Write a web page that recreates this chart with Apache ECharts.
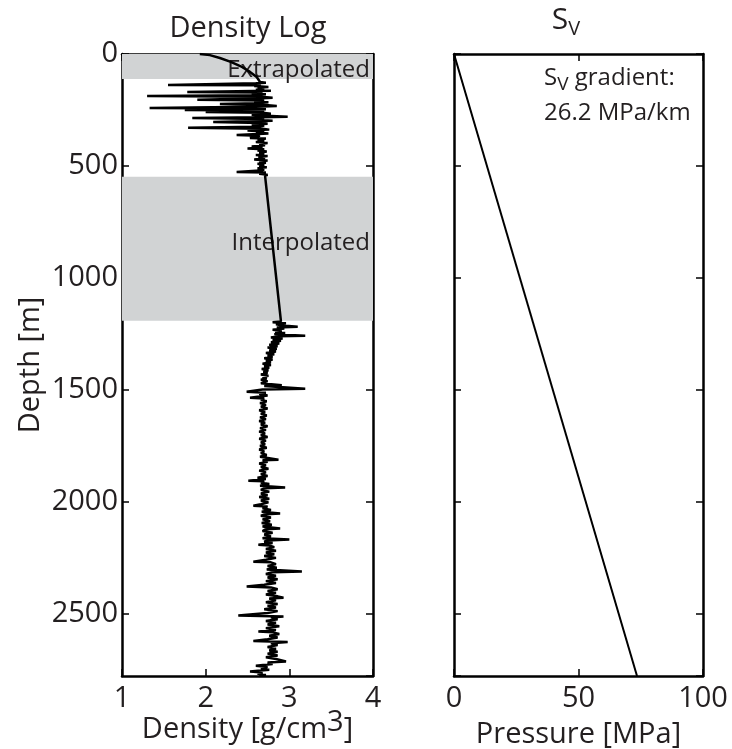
<!DOCTYPE html>
<html>
<head>
<meta charset="utf-8">
<script src="https://cdn.jsdelivr.net/npm/echarts@6/dist/echarts.min.js"></script>
<style>html,body{margin:0;padding:0;background:#fff;}#c{width:732px;height:749px;}</style>
</head>
<body>
<div id="c"></div>
<script>
// ---- data ----
const extrapolated = [[1.93,0],[2.05,5],[2.17,18],[2.30,35],[2.42,55],[2.53,80],[2.61,103],[2.65,125]];
const upperLog = [[2.72,128],[2.60,131],[1.55,138],[2.66,140],[2.58,143],[2.75,147],[2.62,151],[2.70,155],[2.60,160],[2.78,164],[1.78,170],[2.68,172],[2.55,176],[2.72,180],[2.62,184],[1.30,188],[2.66,191],[2.80,195],[2.60,199],[1.90,205],[2.70,208],[2.58,212],[2.75,216],[2.62,220],[2.17,223],[2.68,227],[2.85,232],[2.60,236],[1.33,241],[2.65,244],[2.72,247],[1.75,250],[2.70,253],[2.60,256],[2.00,259],[2.68,263],[2.78,267],[2.55,271],[2.72,276],[2.98,281],[2.65,283],[1.84,286],[2.70,290],[2.58,294],[2.80,298],[2.09,304],[2.66,308],[2.74,312],[2.55,316],[2.70,320],[2.62,325],[1.79,330],[2.68,334],[2.76,338],[2.50,342],[2.70,346],[2.60,351],[2.75,355],[2.37,362],[2.65,365],[2.58,369],[2.53,375],[2.72,378],[2.62,383],[2.70,388],[2.60,393],[2.74,398],[2.64,403],[2.71,408],[2.55,413],[2.68,418],[2.50,422],[2.70,426],[2.62,431],[2.73,436],[2.64,441],[2.70,446],[2.60,451],[2.74,456],[2.63,461],[2.71,466],[2.58,471],[2.74,476],[2.64,481],[2.72,486],[2.62,491],[2.70,496],[2.64,501],[2.73,506],[2.62,511],[2.70,516],[2.65,521],[2.37,527],[2.72,530],[2.64,535],[2.74,540],[2.71,545]];
const lowerLog = [[2.90,1195],[2.80,1199],[2.96,1203],[2.84,1208],[2.92,1213],[3.10,1219],[2.85,1222],[2.94,1227],[2.80,1232],[2.91,1237],[2.83,1242],[2.95,1247],[2.82,1252],[3.19,1259],[2.86,1262],[2.78,1267],[2.92,1272],[2.80,1277],[2.90,1282],[2.78,1288],[2.88,1294],[2.76,1300],[2.86,1306],[2.74,1312],[2.85,1318],[2.76,1324],[2.84,1330],[2.72,1336],[2.82,1342],[2.74,1348],[2.80,1354],[2.70,1360],[2.80,1366],[2.72,1372],[2.78,1378],[2.68,1384],[2.78,1390],[2.70,1396],[2.76,1402],[2.67,1408],[2.75,1414],[2.69,1420],[2.74,1426],[2.66,1432],[2.75,1438],[2.68,1444],[2.73,1450],[2.66,1456],[2.74,1462],[2.72,1466],[2.66,1472],[2.91,1480],[2.70,1484],[3.19,1496],[2.68,1500],[2.49,1510],[2.72,1514],[2.64,1520],[2.74,1526],[2.53,1536],[2.70,1540],[2.66,1546],[2.73,1552],[2.65,1560],[2.72,1568],[2.66,1576],[2.74,1584],[2.64,1592],[2.71,1600],[2.66,1608],[2.73,1616],[2.65,1624],[2.72,1632],[2.64,1640],[2.71,1648],[2.66,1656],[2.74,1664],[2.65,1672],[2.72,1680],[2.64,1688],[2.71,1696],[2.66,1704],[2.74,1712],[2.64,1720],[2.72,1728],[2.66,1736],[2.71,1744],[2.65,1752],[2.73,1760],[2.64,1768],[2.70,1776],[2.66,1784],[2.73,1792],[2.65,1800],[2.87,1813],[2.68,1816],[2.74,1822],[2.64,1830],[2.72,1838],[2.66,1846],[2.75,1854],[2.64,1862],[2.72,1870],[2.66,1878],[2.74,1886],[2.62,1894],[2.72,1900],[2.51,1907],[2.70,1910],[2.66,1916],[2.76,1922],[2.65,1930],[2.95,1938],[2.70,1941],[2.66,1948],[2.76,1956],[2.66,1964],[2.74,1972],[2.64,1980],[2.76,1988],[2.66,1996],[2.75,2004],[2.66,2012],[2.57,2019],[2.74,2022],[2.68,2030],[2.78,2038],[2.67,2046],[2.89,2054],[2.72,2057],[2.66,2064],[2.78,2072],[2.68,2080],[2.77,2088],[2.67,2096],[2.79,2104],[2.68,2112],[2.89,2121],[2.72,2124],[2.68,2132],[2.80,2140],[2.70,2148],[2.78,2156],[2.68,2164],[3.00,2170],[2.74,2174],[2.70,2180],[2.80,2186],[2.63,2193],[2.76,2197],[2.82,2204],[2.72,2212],[2.84,2220],[2.72,2228],[2.82,2236],[2.70,2244],[2.84,2252],[2.72,2260],[2.57,2269],[2.78,2272],[2.84,2280],[2.74,2288],[2.85,2296],[2.73,2304],[3.15,2313],[2.80,2316],[2.72,2324],[2.84,2332],[2.74,2340],[2.86,2348],[2.72,2356],[2.84,2364],[2.70,2372],[2.49,2380],[2.78,2384],[2.86,2392],[2.74,2400],[2.84,2408],[2.72,2416],[2.86,2424],[2.93,2430],[2.76,2434],[2.84,2442],[2.72,2450],[2.86,2458],[2.74,2466],[2.84,2474],[2.70,2482],[2.86,2490],[2.74,2498],[2.39,2510],[2.93,2514],[2.78,2518],[2.86,2526],[2.72,2534],[2.84,2542],[2.74,2550],[2.88,2558],[2.72,2566],[2.84,2574],[2.63,2581],[2.80,2585],[2.88,2592],[2.76,2600],[2.86,2608],[2.74,2616],[2.57,2624],[2.98,2628],[2.78,2634],[2.86,2642],[2.74,2650],[2.84,2658],[2.76,2666],[2.86,2672],[2.74,2680],[2.86,2688],[2.72,2696],[2.84,2704],[2.96,2715],[2.74,2720],[2.80,2726],[2.60,2734],[2.74,2740],[2.66,2746],[2.76,2752],[2.53,2760],[2.68,2764],[2.62,2770],[2.72,2775],[2.64,2780]];
const bands = [{name:'Extrapolated', from:0, to:112}, {name:'Interpolated', from:549, to:1192}];
const svDepth = [0, 2780];
const svPressure = [0, 73.5];
const depthRange = [0, 2780];
const densityRange = [1, 4];
const pressureRange = [0, 100];

// ---- chart ----
const FF = "'Open Sans', sans-serif";
const TC = '#231f20';
const chart = echarts.init(document.getElementById('c'));

function frameAxis(extra) {
  return Object.assign({
    type: 'value',
    nameMoveOverlap: false,
    axisLine: { show: true, onZero: false, lineStyle: { color: '#000', width: 2.5 } },
    axisTick: { show: true, inside: true, length: 7, lineStyle: { color: '#000', width: 1.5 } },
    splitLine: { show: false },
    axisLabel: { show: false }
  }, extra);
}
const tickLabel = { show: true, fontSize: 29, fontFamily: FF, color: TC, margin: 4, formatter: v => String(v) };
const xTickLabel = Object.assign({}, tickLabel, { margin: 8 });

const svData = svDepth.map((d, i) => [svPressure[i], d]);
const densityData = extrapolated.concat(upperLog, lowerLog);

chart.setOption({
  animation: false,
  backgroundColor: '#fff',
  grid: [
    { left: 122, top: 54, width: 251, height: 622, containLabel: false, outerBoundsMode: 'none' },
    { left: 454, top: 54, width: 249, height: 622, containLabel: false, outerBoundsMode: 'none' }
  ],
  xAxis: [
    frameAxis({ gridIndex: 0, position: 'bottom', min: densityRange[0], max: densityRange[1], interval: 1,
      axisLabel: xTickLabel,
      name: 'Density [g/cm{sup|3}]', nameLocation: 'middle', nameGap: 32,
      nameTextStyle: { fontSize: 29, fontFamily: FF, color: TC, verticalAlign: 'top',
        rich: { sup: { fontSize: 29, fontFamily: FF, color: TC, padding: [0, 0, 15, 0], verticalAlign: 'bottom' } } } }),
    frameAxis({ gridIndex: 0, position: 'top', min: densityRange[0], max: densityRange[1], interval: 1 }),
    frameAxis({ gridIndex: 1, position: 'bottom', min: pressureRange[0], max: pressureRange[1], interval: 50,
      axisLabel: xTickLabel,
      name: 'Pressure [MPa]', nameLocation: 'middle', nameGap: 44,
      nameTextStyle: { fontSize: 29, fontFamily: FF, color: TC, verticalAlign: 'top' } }),
    frameAxis({ gridIndex: 1, position: 'top', min: pressureRange[0], max: pressureRange[1], interval: 50 })
  ],
  yAxis: [
    frameAxis({ gridIndex: 0, position: 'left', inverse: true, min: depthRange[0], max: depthRange[1], interval: 500,
      axisLabel: Object.assign({}, tickLabel, { showMaxLabel: false }),
      name: 'Depth [m]', nameLocation: 'middle', nameGap: 77, nameRotate: 90,
      nameTextStyle: { fontSize: 29, fontFamily: FF, color: TC } }),
    frameAxis({ gridIndex: 0, position: 'right', inverse: true, min: depthRange[0], max: depthRange[1], interval: 500 }),
    frameAxis({ gridIndex: 1, position: 'left', inverse: true, min: depthRange[0], max: depthRange[1], interval: 500 }),
    frameAxis({ gridIndex: 1, position: 'right', inverse: true, min: depthRange[0], max: depthRange[1], interval: 500 })
  ],
  series: [
    {
      type: 'line', xAxisIndex: 0, yAxisIndex: 0, data: [], z: 1, silent: true,
      markArea: {
        silent: true,
        itemStyle: { color: '#d1d3d4' },
        label: { show: true, position: 'insideRight', distance: 3, fontSize: 24, fontFamily: FF, color: TC },
        data: bands.map((b, i) => [
          { name: b.name, xAxis: densityRange[0], yAxis: b.from, label: { offset: i === 0 ? [0, 4] : [0, -6] } },
          { xAxis: densityRange[1], yAxis: b.to }
        ])
      }
    },
    {
      type: 'line', xAxisIndex: 0, yAxisIndex: 0, z: 3, data: densityData,
      showSymbol: false, symbol: 'none', lineStyle: { color: '#000', width: 2.5 }
    },
    {
      type: 'line', xAxisIndex: 2, yAxisIndex: 2, z: 3, data: svData,
      showSymbol: false, symbol: 'none', lineStyle: { color: '#000', width: 2 }
    }
  ],
  graphic: [
    { type: 'text', x: 248, y: 29, style: { text: 'Density Log', fontSize: 29, fontFamily: FF, fill: TC, align: 'center', verticalAlign: 'middle' } },
    { type: 'text', x: 566, y: 22, style: { text: '{s|S}{v|V}', align: 'center', verticalAlign: 'middle',
        rich: { s: { fontSize: 30, fontFamily: FF, fill: TC, padding: [0, 0, 4, 0], verticalAlign: 'bottom' },
                v: { fontSize: 20, fontFamily: FF, fill: TC, verticalAlign: 'bottom' } } } },
    { type: 'text', x: 544, y: 80, style: { text: '{s|S}{v|V}{s| gradient:}', align: 'left', verticalAlign: 'middle',
        rich: { s: { fontSize: 24, fontFamily: FF, fill: TC, padding: [0, 0, 4, 0], verticalAlign: 'bottom' },
                v: { fontSize: 19, fontFamily: FF, fill: TC, verticalAlign: 'bottom' } } } },
    { type: 'text', x: 544, y: 113, style: { text: '26.2 MPa/km', fontSize: 24, fontFamily: FF, fill: TC, align: 'left', verticalAlign: 'middle' } }
  ]
});
</script>
</body>
</html>
